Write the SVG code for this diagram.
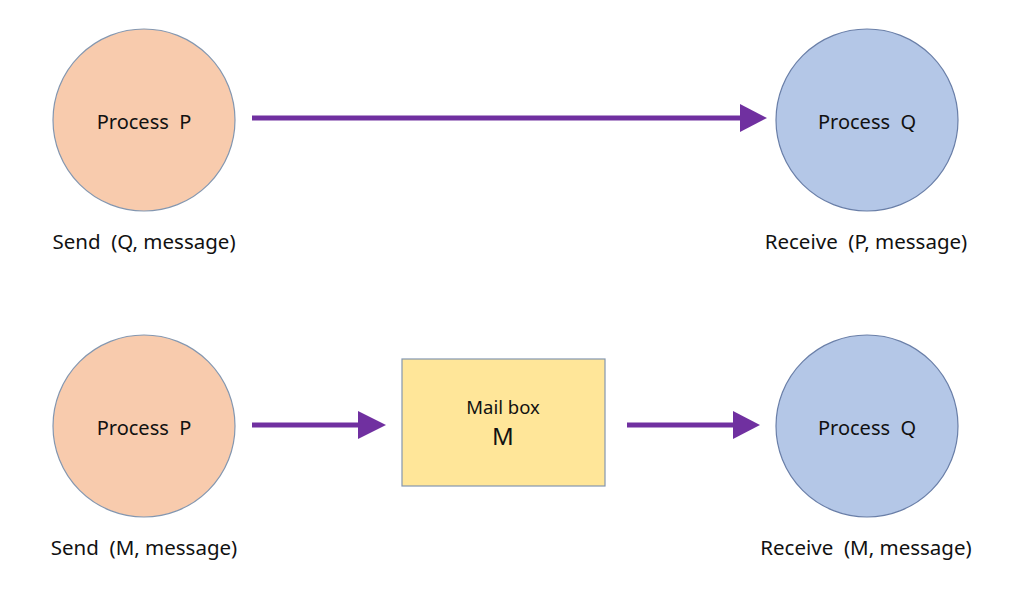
<svg xmlns="http://www.w3.org/2000/svg" width="1020" height="595" viewBox="0 0 1020 595">
<style>
text{font-family:"Noto Sans","Open Sans","Liberation Sans",sans-serif;fill:#111;text-anchor:middle;white-space:pre}
.p{fill:#F8CBAD;stroke:#8497B0;stroke-width:1.2}
.q{fill:#B4C7E7;stroke:#6A7FA8;stroke-width:1.2}
.box{fill:#FFE699;stroke:#8497B0;stroke-width:1.2}
.lbl{font-size:20px}
.cap{font-size:20.5px}
.conn{stroke:#7030A0;stroke-width:5;fill:none}
.head{fill:#7030A0}
</style>
<rect width="1020" height="595" fill="#fff"/>
<g id="p1"><circle class="p" cx="144" cy="120" r="91"/><text class="lbl" x="144" y="129" xml:space="preserve">Process  P</text></g>
<g id="q1"><circle class="q" cx="867" cy="120" r="91"/><text class="lbl" x="867" y="129" xml:space="preserve">Process  Q</text></g>
<g id="p2"><circle class="p" cx="144" cy="426" r="91"/><text class="lbl" x="144" y="435" xml:space="preserve">Process  P</text></g>
<g id="q2"><circle class="q" cx="867" cy="426" r="91"/><text class="lbl" x="867" y="435" xml:space="preserve">Process  Q</text></g>
<g id="mailbox"><rect class="box" x="402" y="359" width="203" height="127"/><text x="503" y="414" font-size="18.5">Mail box</text><text x="503" y="445" font-size="24">M</text></g>
<g id="captions">
<text class="cap" x="144" y="249" xml:space="preserve">Send  (Q, message)</text>
<text class="cap" x="866" y="249" xml:space="preserve">Receive  (P, message)</text>
<text class="cap" x="144" y="555" xml:space="preserve">Send  (M, message)</text>
<text class="cap" x="866" y="555" xml:space="preserve">Receive  (M, message)</text>
</g>
<g id="connectors">
<line class="conn" x1="252" y1="118" x2="742" y2="118"/><polygon class="head" points="740,104 767,118 740,132"/>
<line class="conn" x1="252" y1="425" x2="360" y2="425"/><polygon class="head" points="358,411 386,425 358,439"/>
<line class="conn" x1="627" y1="425" x2="735" y2="425"/><polygon class="head" points="733,411 760,425 733,439"/>
</g>
</svg>
